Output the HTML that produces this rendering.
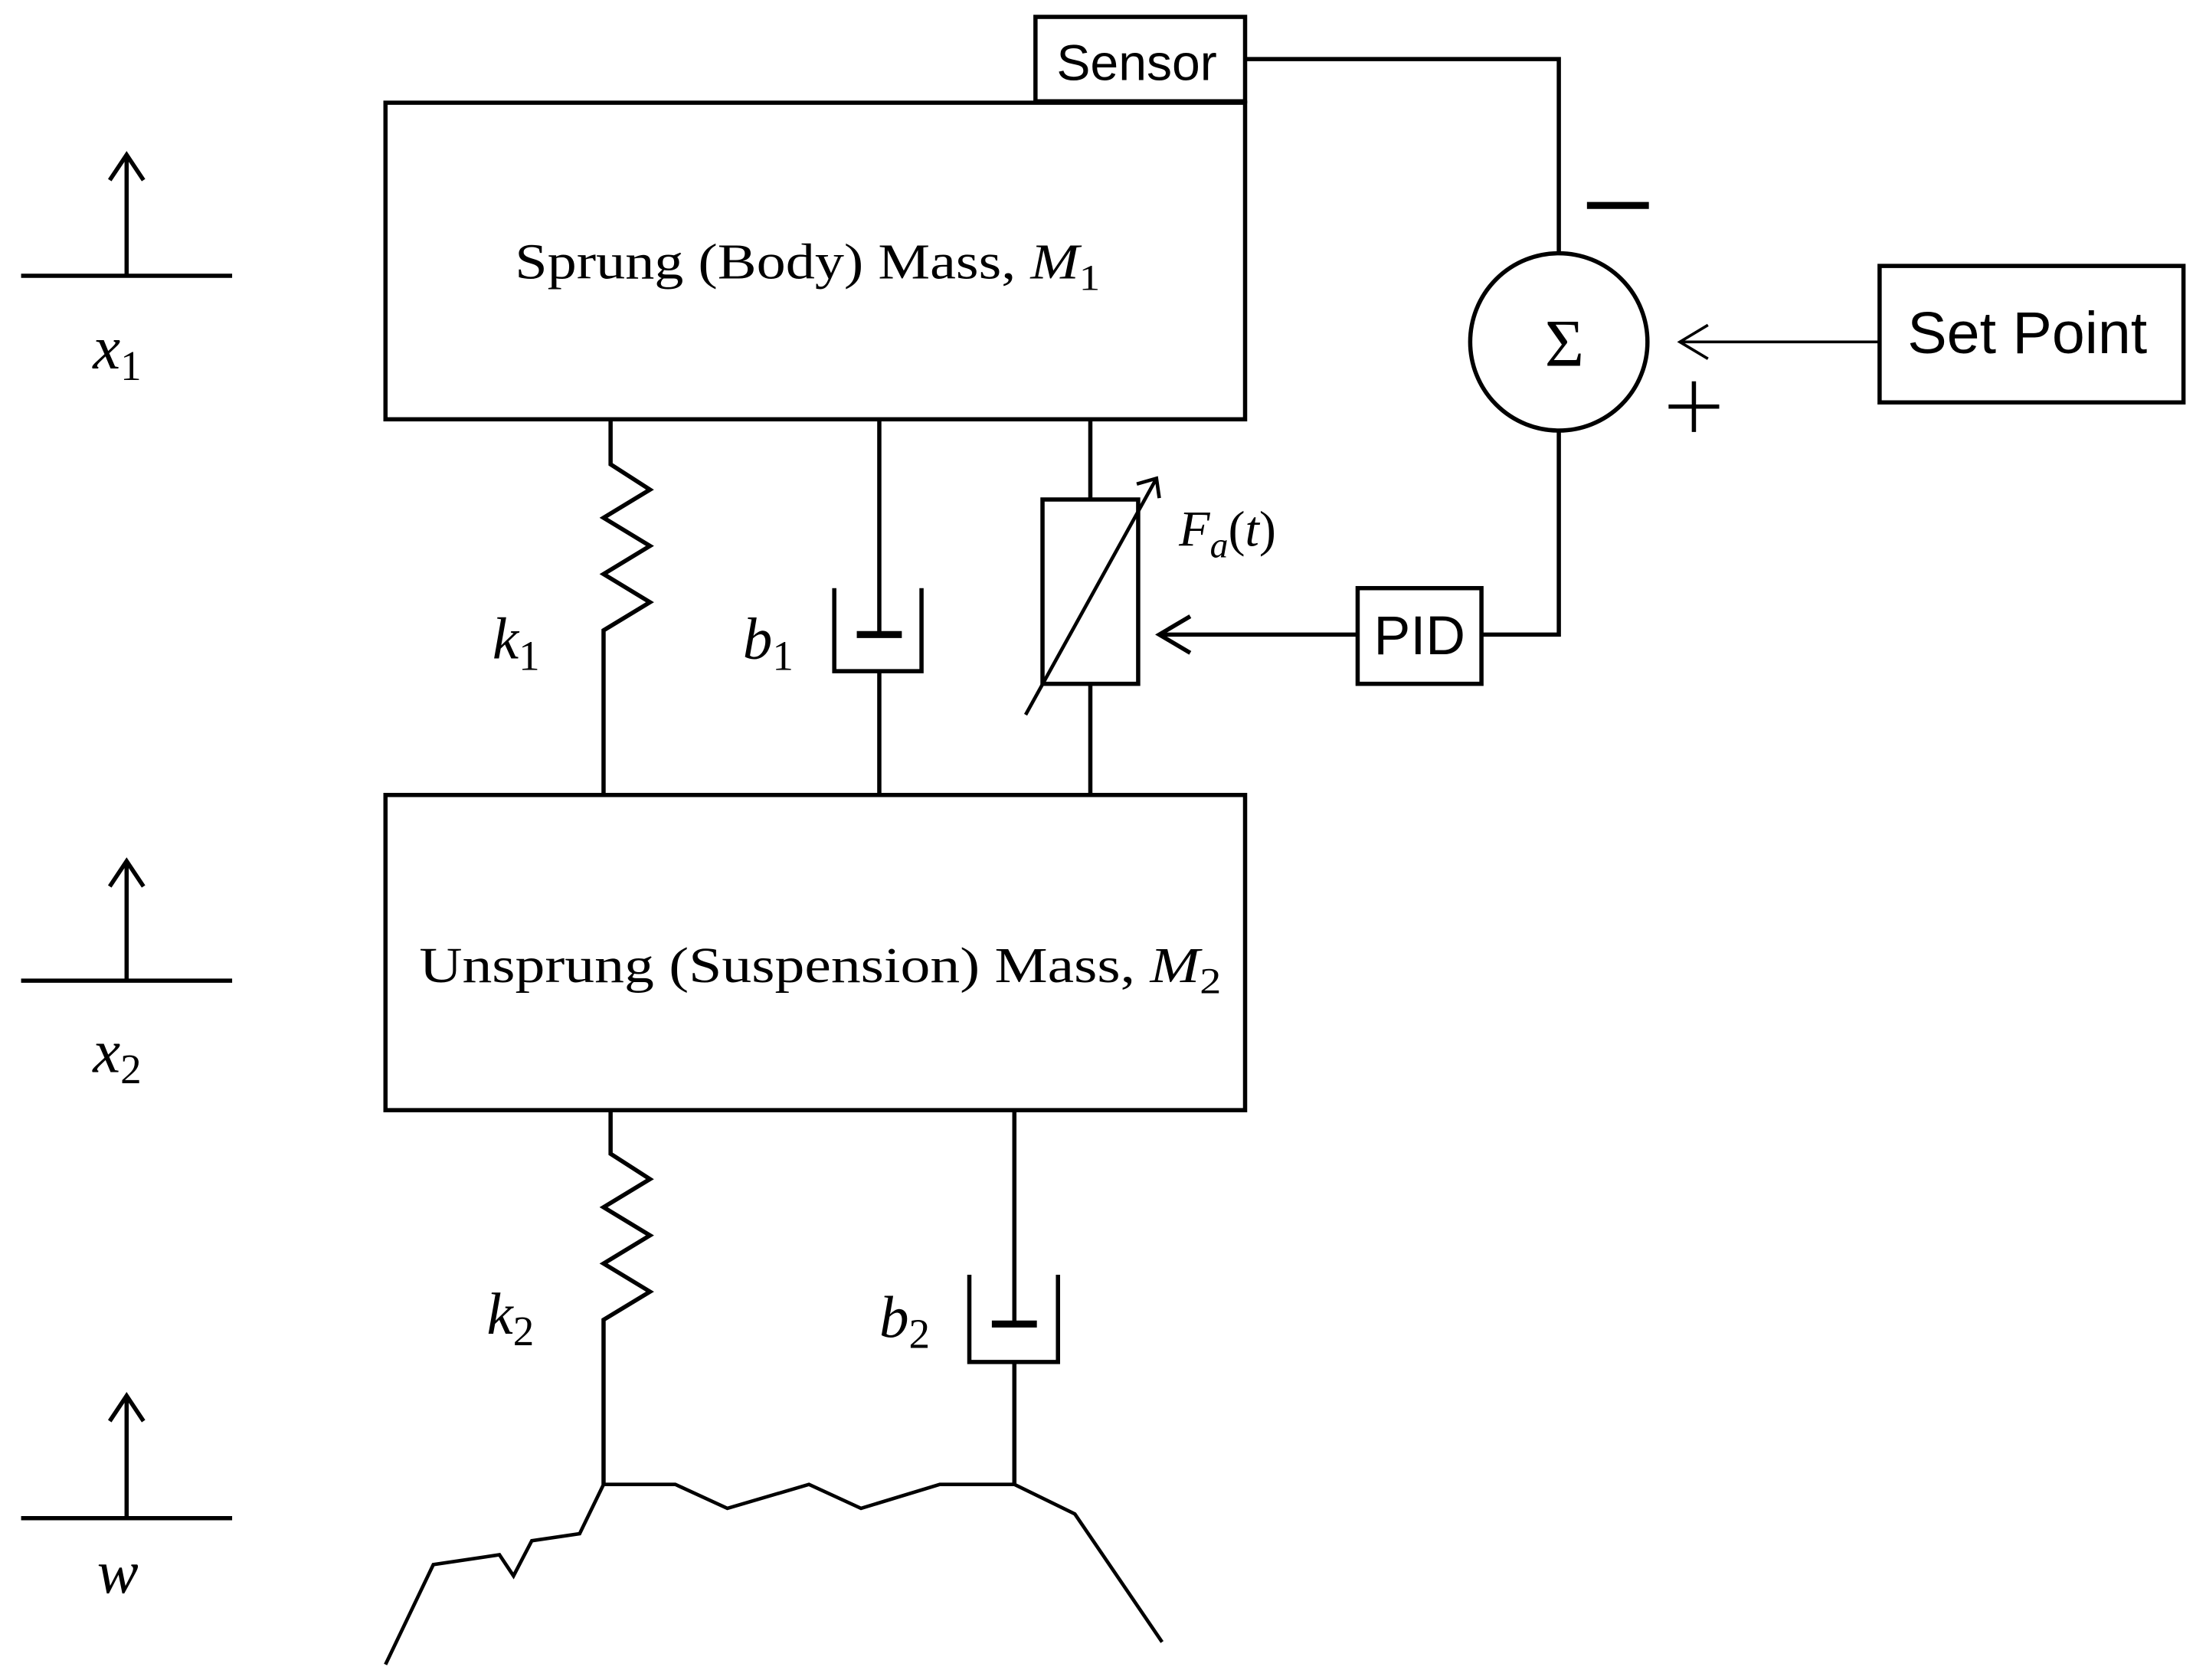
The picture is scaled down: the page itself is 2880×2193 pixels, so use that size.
<!DOCTYPE html>
<html><head><meta charset="utf-8"><style>
html,body{margin:0;padding:0;background:#fff;}
svg{display:block;}
.s{font-family:"Liberation Sans","DejaVu Sans",sans-serif;}
.m{font-family:"Liberation Serif","DejaVu Serif",serif;}
</style></head><body>
<svg width="2880" height="2193" viewBox="0 0 1568 1194" preserveAspectRatio="none" xmlns="http://www.w3.org/2000/svg">
<g fill="none" stroke="#000" stroke-width="3">
<rect x="736" y="12" width="149" height="60"/>
<rect x="274" y="73" width="611" height="225"/>
<rect x="274" y="565" width="611" height="224"/>
<rect x="1336" y="189" width="216" height="97"/>
<rect x="965" y="418" width="88" height="68"/>
<rect x="741" y="355" width="68" height="131"/>
<circle cx="1108" cy="243" r="63"/>
<polyline points="885,42 1108,42 1108,180"/>
<polyline points="1108,306 1108,451 1053,451"/>
<line x1="1128" y1="146" x2="1172" y2="146" stroke-width="5"/>
<line x1="1186" y1="289" x2="1222" y2="289"/>
<line x1="1204" y1="271" x2="1204" y2="307"/>
<line x1="1336" y1="243" x2="1194" y2="243" stroke-width="2"/>
<polyline points="1214,231 1194,243 1214,255" stroke-width="2"/>
<line x1="965" y1="451" x2="824" y2="451"/>
<polyline points="846,438 824,451 846,464"/>
<line x1="775" y1="298" x2="775" y2="355"/>
<line x1="775" y1="486" x2="775" y2="565"/>
<line x1="729" y1="508" x2="822" y2="340" stroke-width="2.5"/>
<polyline points="808,344 822,340 824,354" stroke-width="2.5"/>
<polyline points="434,298 434,330 462,348 429,368 462,388 429,408 462,428 429,448 429,565"/>
<line x1="625" y1="298" x2="625" y2="451"/>
<line x1="609" y1="451" x2="641" y2="451" stroke-width="5"/>
<polyline points="593,418 593,477 655,477 655,418"/>
<line x1="625" y1="477" x2="625" y2="565"/>
<polyline points="434,789 434,820 462,838 429,858 462,878 429,898 462,918 429,938 429,1055"/>
<line x1="721" y1="789" x2="721" y2="941"/>
<line x1="705" y1="941" x2="737" y2="941" stroke-width="5"/>
<polyline points="689,906 689,968 752,968 752,906"/>
<line x1="721" y1="968" x2="721" y2="1055"/>
<polyline points="274,1183 308,1112 355,1105 365,1120 378,1095 412,1090 429,1055 480,1055 517,1072 575,1055 612,1072 668,1055 721,1055 764,1076 826,1167" stroke-width="2.5"/>
<line x1="15" y1="196" x2="165" y2="196"/><line x1="90" y1="196" x2="90" y2="110"/><polyline points="78,128 90,110 102,128"/>
<line x1="15" y1="697" x2="165" y2="697"/><line x1="90" y1="697" x2="90" y2="612"/><polyline points="78,630 90,612 102,630"/>
<line x1="15" y1="1079" x2="165" y2="1079"/><line x1="90" y1="1079" x2="90" y2="992"/><polyline points="78,1010 90,992 102,1010"/>
</g>
<g fill="#000">
<text class="s" x="808" y="57" font-size="36" text-anchor="middle">Sensor</text>
<text class="s" x="1441" y="251" font-size="42" text-anchor="middle">Set Point</text>
<text class="s" x="1009" y="465" font-size="39" text-anchor="middle">PID</text>
<text class="m" x="1112" y="260" font-size="48" text-anchor="middle">Σ</text>
<text class="m" x="366" y="198" font-size="36" textLength="416" lengthAdjust="spacingAndGlyphs">Sprung (Body) Mass, <tspan font-style="italic">M</tspan><tspan font-size="26" dy="8">1</tspan></text>
<text class="m" x="298" y="698" font-size="36" textLength="570" lengthAdjust="spacingAndGlyphs">Unsprung (Suspension) Mass, <tspan font-style="italic">M</tspan><tspan font-size="26" dy="8">2</tspan></text>
<text class="m" x="350" y="468" font-size="42" font-style="italic">k<tspan font-size="30" dy="8" font-style="normal">1</tspan></text>
<text class="m" x="528" y="468" font-size="42" font-style="italic">b<tspan font-size="30" dy="8" font-style="normal">1</tspan></text>
<text class="m" x="346" y="948" font-size="42" font-style="italic">k<tspan font-size="30" dy="8" font-style="normal">2</tspan></text>
<text class="m" x="625" y="950" font-size="42" font-style="italic">b<tspan font-size="30" dy="8" font-style="normal">2</tspan></text>
<text class="m" x="838" y="388" font-size="36" font-style="italic">F<tspan font-size="26" dy="8">a</tspan><tspan dy="-8" font-style="normal">(</tspan>t<tspan font-style="normal">)</tspan></text>
<text class="m" x="66" y="262" font-size="44" font-style="italic">x<tspan font-size="30" dy="8" font-style="normal">1</tspan></text>
<text class="m" x="66" y="762" font-size="44" font-style="italic">x<tspan font-size="30" dy="8" font-style="normal">2</tspan></text>
<text class="m" x="69" y="1132" font-size="44" font-style="italic">w</text>
</g>
</svg>
</body></html>
